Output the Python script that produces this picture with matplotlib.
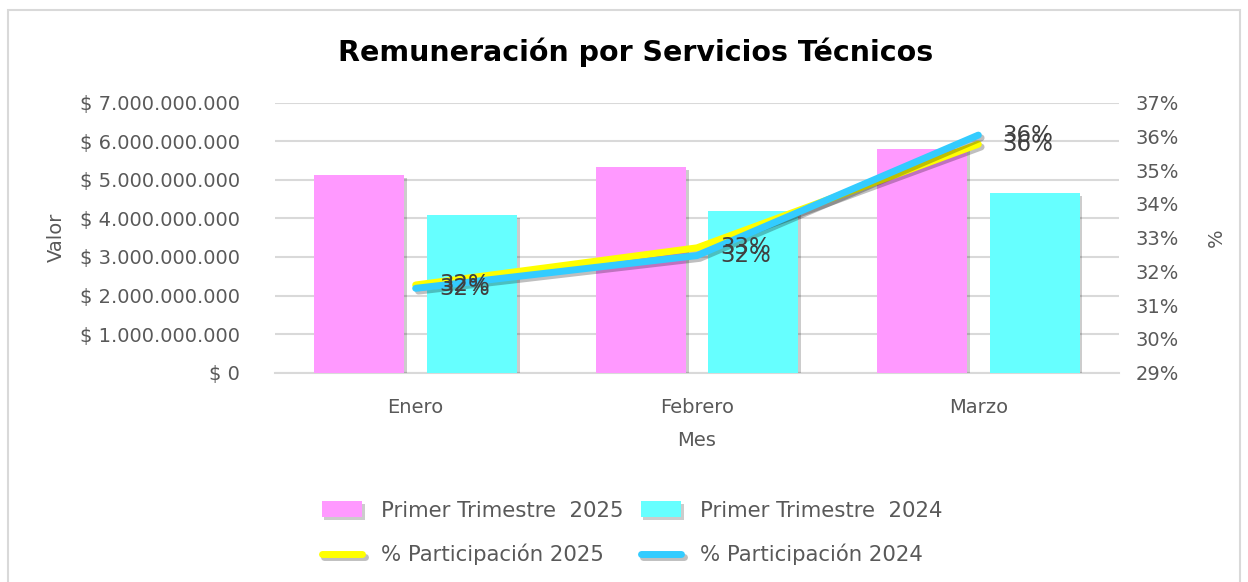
import numpy as np
import matplotlib
matplotlib.use("Agg")
import matplotlib.pyplot as plt
import matplotlib.patheffects as pe
from matplotlib.patches import Rectangle

# datos
meses = ["Enero", "Febrero", "Marzo"]
valor_2025 = [5.12e9, 5.32e9, 5.81e9]
valor_2024 = [4.08e9, 4.18e9, 4.66e9]
part_2025 = [31.6, 32.7, 35.77]
part_2024 = [31.5, 32.47, 36.04]
left_ticks = np.arange(0, 7.01e9, 1e9)
right_ticks = np.arange(29, 37.1, 1)

gris = "#595959"
plt.rcParams["font.family"] = ["DejaVu Sans"]

fig = plt.figure(figsize=(12.48, 5.82), dpi=100)
ax = fig.add_axes([275 / 1248, 1 - 372.7 / 582, (1119 - 275) / 1248, 270 / 582])
ax2 = ax.twinx()

x = np.arange(len(meses))
w = 0.32
sombra = [pe.withSimplePatchShadow(offset=(2, -2), shadow_rgbFace="k", alpha=0.2)]
b25 = ax.bar(x - 0.2, valor_2025, w, color="#FF99FF", path_effects=sombra, zorder=3, label="Primer Trimestre  2025")
b24 = ax.bar(x + 0.2, valor_2024, w, color="#66FFFF", path_effects=sombra, zorder=3, label="Primer Trimestre  2024")

ax.set_ylim(0, 7e9)
ax.set_xlim(-0.5, 2.5)
ax.set_yticks(left_ticks)
ax.set_yticklabels(["$ 0"] + [f"$ {v/1e9:.0f}.000.000.000" for v in left_ticks[1:]])
ax.grid(axis="y", color="#D9D9D9", linewidth=1.5, zorder=0)
ax.set_axisbelow(True)
ax.set_xticks(x)
ax.set_xticklabels(meses)
for s in ax.spines.values():
    s.set_visible(False)
ax.spines["bottom"].set_visible(True)
ax.spines["bottom"].set_color("#D9D9D9")
ax.spines["bottom"].set_linewidth(1.5)
ax.tick_params(axis="y", length=0, pad=25, labelsize=14, labelcolor=gris)
ax.tick_params(axis="x", length=0, pad=18, labelsize=14, labelcolor=gris)
ax.set_ylabel("Valor", fontsize=14, color=gris, labelpad=10)
ax.set_xlabel("Mes", fontsize=14, color=gris, labelpad=10)

lsombra = [pe.SimpleLineShadow(offset=(2, -2), alpha=0.25), pe.Normal()]
l25, = ax2.plot(x, part_2025, color="#FFFF00", linewidth=5, solid_capstyle="round",
                path_effects=lsombra, label="% Participación 2025")
l24, = ax2.plot(x, part_2024, color="#33CCFF", linewidth=5, solid_capstyle="round",
                path_effects=lsombra, label="% Participación 2024")
ax2.set_ylim(29, 37)
ax2.set_yticks(right_ticks)
ax2.set_yticklabels([f"{v:.0f}%" for v in right_ticks])
ax2.tick_params(axis="y", length=0, pad=12, labelsize=14, labelcolor=gris)
ax2.set_ylabel("%", fontsize=14, color=gris, labelpad=20)
for s in ax2.spines.values():
    s.set_visible(False)

for serie in (part_2025, part_2024):
    for xi, v in zip(x, serie):
        ax2.annotate(f"{v:.0f}%", (xi, v), xytext=(17, 0), textcoords="offset points",
                     ha="left", va="center", fontsize=16.5, color="#404040", zorder=5)

fig.text(636 / 1248, 1 - 52 / 582, "Remuneración por Servicios Técnicos", ha="center", va="center",
         fontsize=20.5, fontweight="bold", color="black")

fig.legend([b25, l25, b24, l24],
           ["Primer Trimestre  2025", "% Participación 2025", "Primer Trimestre  2024", "% Participación 2024"],
           ncol=2, loc="center", bbox_to_anchor=(632 / 1248, 1 - 533 / 582), frameon=False,
           fontsize=15.3, labelcolor=gris, handlelength=1.9, handleheight=0.75, handletextpad=0.9,
           columnspacing=0.8, labelspacing=1.1)

fig.patches.append(Rectangle((8 / 1248, -0.1), 1232 / 1248, 1.1 - 10 / 582, transform=fig.transFigure,
                             fill=False, edgecolor="#D9D9D9", linewidth=1.5))

fig.savefig("out.png", dpi=100, facecolor="white")
